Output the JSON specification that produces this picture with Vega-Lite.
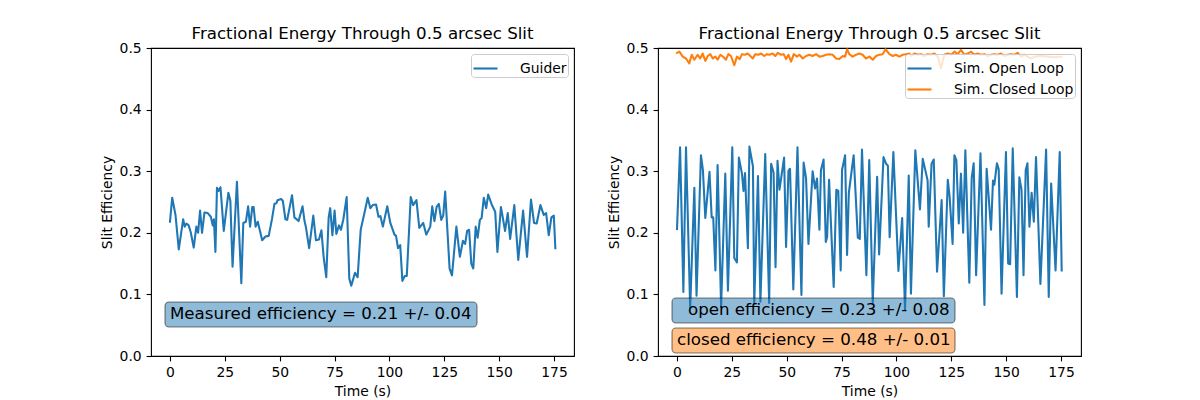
{
  "$schema": "https://vega.github.io/schema/vega-lite/v6.json",
  "padding": {"left": 99, "top": 25, "right": 0, "bottom": 0},
  "background": "white",
  "config": {
    "font": "DejaVu Sans",
    "view": {"stroke": "black", "strokeWidth": 1.1},
    "title": {"font": "DejaVu Sans", "fontSize": 16.67, "fontWeight": "normal", "color": "black", "baseline": "alphabetic", "offset": -2, "anchor": "middle"},
    "axis": {
      "domain": false, "grid": false,
      "tickColor": "black", "tickSize": 4.9, "tickWidth": 1.1,
      "labelFont": "DejaVu Sans", "labelFontSize": 13.9, "labelColor": "black", "labelPadding": 4.9,
      "titleFont": "DejaVu Sans", "titleFontSize": 13.9, "titleFontWeight": "normal", "titleColor": "black", "titlePadding": 5
    },
    "legend": {
      "title": null, "orient": "top-right", "offset": 6, "padding": 1,
      "symbolType": "stroke", "symbolSize": 576, "symbolStrokeWidth": 2.1,
      "labelFont": "DejaVu Sans", "labelFontSize": 13.9, "labelColor": "black", "labelOffset": 21,
      "fillColor": "rgba(255,255,255,0.8)", "strokeColor": "#cccccc", "cornerRadius": 3, "rowPadding": -2
    }
  },
  "datasets": {
    "guider": [
      {"t": 0, "eff": 0.218}, {"t": 1, "eff": 0.257}, {"t": 2.5, "eff": 0.229}, {"t": 4, "eff": 0.173},
      {"t": 6, "eff": 0.222}, {"t": 6.7, "eff": 0.21}, {"t": 7.5, "eff": 0.215}, {"t": 8.5, "eff": 0.212},
      {"t": 9.5, "eff": 0.2}, {"t": 10.8, "eff": 0.176}, {"t": 12, "eff": 0.21}, {"t": 12.8, "eff": 0.2},
      {"t": 13.7, "eff": 0.236}, {"t": 14.6, "eff": 0.2}, {"t": 15.7, "eff": 0.233}, {"t": 17.2, "eff": 0.232},
      {"t": 18.6, "eff": 0.226}, {"t": 19.5, "eff": 0.212}, {"t": 20, "eff": 0.222}, {"t": 20.7, "eff": 0.169},
      {"t": 21.4, "eff": 0.273}, {"t": 22.2, "eff": 0.268}, {"t": 23, "eff": 0.274}, {"t": 24.5, "eff": 0.203},
      {"t": 26.6, "eff": 0.265}, {"t": 27.5, "eff": 0.252}, {"t": 28.5, "eff": 0.145}, {"t": 30.5, "eff": 0.283},
      {"t": 32.5, "eff": 0.118}, {"t": 33.4, "eff": 0.216}, {"t": 34.6, "eff": 0.218}, {"t": 35.6, "eff": 0.243},
      {"t": 36.5, "eff": 0.21}, {"t": 37.5, "eff": 0.242}, {"t": 38.1, "eff": 0.242}, {"t": 39, "eff": 0.21},
      {"t": 40, "eff": 0.218}, {"t": 42, "eff": 0.188}, {"t": 43.5, "eff": 0.194}, {"t": 45, "eff": 0.195},
      {"t": 46.5, "eff": 0.223}, {"t": 47.6, "eff": 0.247}, {"t": 48.5, "eff": 0.248}, {"t": 49, "eff": 0.253},
      {"t": 50.6, "eff": 0.255}, {"t": 51.4, "eff": 0.252}, {"t": 52.6, "eff": 0.222}, {"t": 53.4, "eff": 0.221},
      {"t": 55.6, "eff": 0.261}, {"t": 56.7, "eff": 0.225}, {"t": 58.6, "eff": 0.219}, {"t": 60.4, "eff": 0.243},
      {"t": 61.3, "eff": 0.219}, {"t": 61.9, "eff": 0.21}, {"t": 63.4, "eff": 0.175}, {"t": 65.3, "eff": 0.228},
      {"t": 66.5, "eff": 0.188}, {"t": 67.9, "eff": 0.189}, {"t": 69, "eff": 0.204}, {"t": 70, "eff": 0.161},
      {"t": 71.2, "eff": 0.128}, {"t": 72.3, "eff": 0.225}, {"t": 73, "eff": 0.24}, {"t": 74, "eff": 0.196},
      {"t": 75, "eff": 0.236}, {"t": 75.8, "eff": 0.198}, {"t": 77, "eff": 0.212}, {"t": 77.9, "eff": 0.205},
      {"t": 79, "eff": 0.222}, {"t": 80.5, "eff": 0.258}, {"t": 81.7, "eff": 0.126}, {"t": 82.6, "eff": 0.114},
      {"t": 84.3, "eff": 0.135}, {"t": 85.5, "eff": 0.128}, {"t": 86.9, "eff": 0.205}, {"t": 88.6, "eff": 0.232},
      {"t": 90.1, "eff": 0.257}, {"t": 91.3, "eff": 0.24}, {"t": 92.4, "eff": 0.245}, {"t": 93.9, "eff": 0.246},
      {"t": 95, "eff": 0.226}, {"t": 95.9, "eff": 0.227}, {"t": 97, "eff": 0.21}, {"t": 99, "eff": 0.243},
      {"t": 100.4, "eff": 0.216}, {"t": 102.3, "eff": 0.197}, {"t": 103, "eff": 0.195}, {"t": 103.9, "eff": 0.175},
      {"t": 104.9, "eff": 0.18}, {"t": 105.9, "eff": 0.122}, {"t": 107, "eff": 0.13}, {"t": 107.9, "eff": 0.13},
      {"t": 109.7, "eff": 0.258}, {"t": 110.8, "eff": 0.245}, {"t": 112.3, "eff": 0.253}, {"t": 113.6, "eff": 0.208},
      {"t": 115.4, "eff": 0.216}, {"t": 116.8, "eff": 0.197}, {"t": 118.6, "eff": 0.21}, {"t": 119.5, "eff": 0.243},
      {"t": 120.5, "eff": 0.219}, {"t": 121.5, "eff": 0.242}, {"t": 122.5, "eff": 0.247}, {"t": 123.6, "eff": 0.221},
      {"t": 124.5, "eff": 0.228}, {"t": 125.4, "eff": 0.267}, {"t": 127.4, "eff": 0.142}, {"t": 128.5, "eff": 0.131},
      {"t": 130.5, "eff": 0.21}, {"t": 132.1, "eff": 0.161}, {"t": 133.5, "eff": 0.187}, {"t": 134.5, "eff": 0.182},
      {"t": 135.4, "eff": 0.203}, {"t": 136.3, "eff": 0.205}, {"t": 137.3, "eff": 0.15}, {"t": 138.2, "eff": 0.142},
      {"t": 139.3, "eff": 0.21}, {"t": 140.2, "eff": 0.192}, {"t": 141.2, "eff": 0.221}, {"t": 142, "eff": 0.224},
      {"t": 143, "eff": 0.257}, {"t": 144.1, "eff": 0.24}, {"t": 145, "eff": 0.262}, {"t": 146.6, "eff": 0.246},
      {"t": 147.8, "eff": 0.237}, {"t": 148.2, "eff": 0.234}, {"t": 149.2, "eff": 0.169}, {"t": 150.8, "eff": 0.242},
      {"t": 152.7, "eff": 0.203}, {"t": 153.9, "eff": 0.232}, {"t": 155, "eff": 0.19}, {"t": 156.9, "eff": 0.245},
      {"t": 158.7, "eff": 0.156}, {"t": 160.9, "eff": 0.236}, {"t": 162.7, "eff": 0.161}, {"t": 164.5, "eff": 0.254},
      {"t": 165.9, "eff": 0.216}, {"t": 167.1, "eff": 0.215}, {"t": 168.8, "eff": 0.245}, {"t": 170.3, "eff": 0.229},
      {"t": 171.4, "eff": 0.232}, {"t": 172.6, "eff": 0.196}, {"t": 173.8, "eff": 0.225}, {"t": 174.9, "eff": 0.228},
      {"t": 175.6, "eff": 0.175}
    ],
    "open": [
      {"t": 0, "eff": 0.206}, {"t": 1.4, "eff": 0.339}, {"t": 2.9, "eff": 0.104}, {"t": 4.1, "eff": 0.339},
      {"t": 6, "eff": 0.078}, {"t": 7.9, "eff": 0.273}, {"t": 8.9, "eff": 0.098}, {"t": 10.9, "eff": 0.326},
      {"t": 11.8, "eff": 0.302}, {"t": 12.9, "eff": 0.224}, {"t": 14.8, "eff": 0.299}, {"t": 15.8, "eff": 0.225},
      {"t": 16.5, "eff": 0.225}, {"t": 17.5, "eff": 0.139}, {"t": 18.5, "eff": 0.31}, {"t": 20.1, "eff": 0.08},
      {"t": 22, "eff": 0.296}, {"t": 23.2, "eff": 0.106}, {"t": 25.2, "eff": 0.339}, {"t": 26.1, "eff": 0.159},
      {"t": 27.3, "eff": 0.152}, {"t": 28.2, "eff": 0.322}, {"t": 29.6, "eff": 0.296}, {"t": 30.3, "eff": 0.268},
      {"t": 31, "eff": 0.297}, {"t": 32.3, "eff": 0.175}, {"t": 33, "eff": 0.34}, {"t": 34.6, "eff": 0.308},
      {"t": 35.2, "eff": 0.085}, {"t": 36.9, "eff": 0.292}, {"t": 38, "eff": 0.088}, {"t": 40.2, "eff": 0.328},
      {"t": 42, "eff": 0.086}, {"t": 42.9, "eff": 0.312}, {"t": 44, "eff": 0.298}, {"t": 44.9, "eff": 0.144},
      {"t": 45.8, "eff": 0.317}, {"t": 46.7, "eff": 0.27}, {"t": 48.8, "eff": 0.322}, {"t": 49.7, "eff": 0.177},
      {"t": 50.8, "eff": 0.301}, {"t": 51.5, "eff": 0.304}, {"t": 53, "eff": 0.108}, {"t": 54.9, "eff": 0.339},
      {"t": 56.7, "eff": 0.099}, {"t": 57.7, "eff": 0.314}, {"t": 58.8, "eff": 0.289}, {"t": 59.9, "eff": 0.182},
      {"t": 61.8, "eff": 0.3}, {"t": 62.9, "eff": 0.272}, {"t": 63.8, "eff": 0.288}, {"t": 64.9, "eff": 0.205},
      {"t": 65.6, "eff": 0.302}, {"t": 66.8, "eff": 0.319}, {"t": 67.8, "eff": 0.185}, {"t": 68.4, "eff": 0.193},
      {"t": 69.3, "eff": 0.286}, {"t": 71.4, "eff": 0.112}, {"t": 72.6, "eff": 0.27}, {"t": 73.5, "eff": 0.268},
      {"t": 74.6, "eff": 0.139}, {"t": 75.2, "eff": 0.302}, {"t": 76.6, "eff": 0.326}, {"t": 77.5, "eff": 0.164},
      {"t": 78.3, "eff": 0.265}, {"t": 80.5, "eff": 0.326}, {"t": 82.4, "eff": 0.192}, {"t": 83.3, "eff": 0.19},
      {"t": 84.3, "eff": 0.335}, {"t": 86.3, "eff": 0.131}, {"t": 87.6, "eff": 0.318}, {"t": 89.2, "eff": 0.086},
      {"t": 91.2, "eff": 0.291}, {"t": 92.1, "eff": 0.165}, {"t": 94.1, "eff": 0.323}, {"t": 95.3, "eff": 0.312},
      {"t": 96.1, "eff": 0.309}, {"t": 96.9, "eff": 0.193}, {"t": 98.6, "eff": 0.331}, {"t": 100.9, "eff": 0.138},
      {"t": 102.6, "eff": 0.224}, {"t": 103.9, "eff": 0.075}, {"t": 105.6, "eff": 0.293}, {"t": 106.6, "eff": 0.101},
      {"t": 108.6, "eff": 0.334}, {"t": 110.7, "eff": 0.238}, {"t": 112, "eff": 0.32}, {"t": 114.2, "eff": 0.285},
      {"t": 114.7, "eff": 0.21}, {"t": 116, "eff": 0.312}, {"t": 117, "eff": 0.319}, {"t": 118.5, "eff": 0.137},
      {"t": 120.6, "eff": 0.253}, {"t": 121.6, "eff": 0.097}, {"t": 123.4, "eff": 0.286}, {"t": 124.2, "eff": 0.26},
      {"t": 125.6, "eff": 0.182}, {"t": 126.4, "eff": 0.326}, {"t": 127.3, "eff": 0.318}, {"t": 128.4, "eff": 0.215},
      {"t": 129.4, "eff": 0.296}, {"t": 130.4, "eff": 0.2}, {"t": 131.4, "eff": 0.334}, {"t": 133.2, "eff": 0.119},
      {"t": 134.3, "eff": 0.289}, {"t": 135.2, "eff": 0.313}, {"t": 136.3, "eff": 0.131}, {"t": 138.3, "eff": 0.329},
      {"t": 140.1, "eff": 0.083}, {"t": 141.1, "eff": 0.304}, {"t": 143.1, "eff": 0.205}, {"t": 144, "eff": 0.285},
      {"t": 144.6, "eff": 0.278}, {"t": 145.8, "eff": 0.313}, {"t": 146.6, "eff": 0.303}, {"t": 147.9, "eff": 0.101},
      {"t": 149.9, "eff": 0.331}, {"t": 150.9, "eff": 0.15}, {"t": 151.8, "eff": 0.149}, {"t": 153, "eff": 0.337},
      {"t": 154.9, "eff": 0.096}, {"t": 156, "eff": 0.29}, {"t": 157, "eff": 0.27}, {"t": 157.9, "eff": 0.131},
      {"t": 158.9, "eff": 0.302}, {"t": 159.7, "eff": 0.313}, {"t": 160.6, "eff": 0.21}, {"t": 161.6, "eff": 0.265},
      {"t": 162.6, "eff": 0.218}, {"t": 163.6, "eff": 0.323}, {"t": 165.6, "eff": 0.117}, {"t": 168.2, "eff": 0.335},
      {"t": 169.4, "eff": 0.096}, {"t": 170.5, "eff": 0.28}, {"t": 172.5, "eff": 0.139}, {"t": 174.4, "eff": 0.331},
      {"t": 175.3, "eff": 0.139}
    ],
    "closed": [
      {"t": 0, "eff": 0.492}, {"t": 1.1, "eff": 0.494}, {"t": 2.6, "eff": 0.486}, {"t": 4.1, "eff": 0.483},
      {"t": 5.6, "eff": 0.475}, {"t": 6.7, "eff": 0.489}, {"t": 7.9, "eff": 0.481}, {"t": 9.4, "eff": 0.489},
      {"t": 10.6, "eff": 0.483}, {"t": 11.7, "eff": 0.491}, {"t": 12.9, "eff": 0.479}, {"t": 14, "eff": 0.487},
      {"t": 15.2, "eff": 0.49}, {"t": 16.3, "eff": 0.483}, {"t": 17.5, "eff": 0.486}, {"t": 18.5, "eff": 0.481},
      {"t": 19.8, "eff": 0.489}, {"t": 21.3, "eff": 0.485}, {"t": 22.3, "eff": 0.481}, {"t": 23.4, "eff": 0.49},
      {"t": 24.6, "eff": 0.487}, {"t": 26.1, "eff": 0.472}, {"t": 27.3, "eff": 0.486}, {"t": 28.6, "eff": 0.482},
      {"t": 29.6, "eff": 0.49}, {"t": 31, "eff": 0.489}, {"t": 32.2, "eff": 0.491}, {"t": 33.4, "eff": 0.487},
      {"t": 34.5, "eff": 0.483}, {"t": 35.7, "eff": 0.49}, {"t": 37.1, "eff": 0.489}, {"t": 38.3, "eff": 0.491},
      {"t": 39.8, "eff": 0.487}, {"t": 41, "eff": 0.49}, {"t": 42.1, "eff": 0.489}, {"t": 43.6, "eff": 0.491},
      {"t": 44.8, "eff": 0.487}, {"t": 45.9, "eff": 0.492}, {"t": 47.4, "eff": 0.489}, {"t": 48.6, "eff": 0.49},
      {"t": 49.7, "eff": 0.482}, {"t": 50.8, "eff": 0.489}, {"t": 52, "eff": 0.478}, {"t": 53.2, "eff": 0.49},
      {"t": 54.7, "eff": 0.486}, {"t": 55.8, "eff": 0.489}, {"t": 57.3, "eff": 0.483}, {"t": 58.8, "eff": 0.487},
      {"t": 60.3, "eff": 0.489}, {"t": 61.8, "eff": 0.487}, {"t": 63.4, "eff": 0.49}, {"t": 64.9, "eff": 0.486},
      {"t": 66.4, "eff": 0.487}, {"t": 67.9, "eff": 0.489}, {"t": 69.4, "eff": 0.49}, {"t": 70.9, "eff": 0.489},
      {"t": 72.5, "eff": 0.483}, {"t": 74, "eff": 0.482}, {"t": 75.5, "eff": 0.487}, {"t": 76.6, "eff": 0.486},
      {"t": 77.5, "eff": 0.498}, {"t": 78.5, "eff": 0.49}, {"t": 80, "eff": 0.486}, {"t": 81.6, "eff": 0.489},
      {"t": 83.1, "eff": 0.491}, {"t": 84.6, "eff": 0.489}, {"t": 86.1, "eff": 0.483}, {"t": 87.7, "eff": 0.486},
      {"t": 89.2, "eff": 0.481}, {"t": 90.7, "eff": 0.487}, {"t": 92.2, "eff": 0.489}, {"t": 93.7, "eff": 0.49},
      {"t": 95, "eff": 0.498}, {"t": 96.8, "eff": 0.49}, {"t": 98.3, "eff": 0.487}, {"t": 99.8, "eff": 0.489},
      {"t": 101.3, "eff": 0.486}, {"t": 102.9, "eff": 0.489}, {"t": 104.4, "eff": 0.49}, {"t": 105.9, "eff": 0.491},
      {"t": 106.7, "eff": 0.487}, {"t": 108.2, "eff": 0.491}, {"t": 109.7, "eff": 0.489}, {"t": 111.2, "eff": 0.49},
      {"t": 112.7, "eff": 0.487}, {"t": 114.3, "eff": 0.49}, {"t": 115.8, "eff": 0.489}, {"t": 117.3, "eff": 0.491},
      {"t": 118.8, "eff": 0.486}, {"t": 120.3, "eff": 0.467}, {"t": 121.8, "eff": 0.489}, {"t": 123.4, "eff": 0.491},
      {"t": 124.9, "eff": 0.489}, {"t": 126.4, "eff": 0.494}, {"t": 127.9, "eff": 0.49}, {"t": 129.4, "eff": 0.497},
      {"t": 131, "eff": 0.489}, {"t": 132.5, "eff": 0.491}, {"t": 134, "eff": 0.494}, {"t": 135.5, "eff": 0.489},
      {"t": 137, "eff": 0.491}, {"t": 138.5, "eff": 0.489}, {"t": 140.1, "eff": 0.49}, {"t": 141.6, "eff": 0.487},
      {"t": 143.1, "eff": 0.489}, {"t": 144.6, "eff": 0.49}, {"t": 146.2, "eff": 0.489}, {"t": 147.7, "eff": 0.491},
      {"t": 149.2, "eff": 0.487}, {"t": 150.7, "eff": 0.489}, {"t": 152.2, "eff": 0.49}, {"t": 153.8, "eff": 0.489},
      {"t": 155.3, "eff": 0.492}, {"t": 156.8, "eff": 0.486}, {"t": 158.3, "eff": 0.489}, {"t": 159.8, "eff": 0.486},
      {"t": 161.3, "eff": 0.483}, {"t": 162.9, "eff": 0.486}, {"t": 165.9, "eff": 0.487}, {"t": 168.9, "eff": 0.486},
      {"t": 172, "eff": 0.485}, {"t": 175.3, "eff": 0.486}
    ]
  },
  "spacing": 31,
  "resolve": {"scale": {"color": "independent"}, "legend": {"color": "independent"}},
  "hconcat": [
    {
      "width": 423,
      "height": 308,
      "title": "Fractional Energy Through 0.5 arcsec Slit",
      "encoding": {
        "x": {"field": "t", "type": "quantitative", "scale": {"domain": [-8.66, 184.1], "nice": false, "zero": false},
              "axis": {"values": [0, 25, 50, 75, 100, 125, 150, 175], "title": "Time (s)"}},
        "y": {"field": "eff", "type": "quantitative", "scale": {"domain": [0, 0.5], "nice": false},
              "axis": {"values": [0, 0.1, 0.2, 0.3, 0.4, 0.5], "format": ".1f", "title": "Slit Efficiency"}}
      },
      "layer": [
        {
          "data": {"name": "guider"},
          "mark": {"type": "line", "strokeWidth": 2.08, "strokeJoin": "round", "strokeCap": "square"},
          "encoding": {"color": {"datum": "Guider", "type": "nominal", "scale": {"range": ["#1f77b4"]}}}
        },
        {
          "data": {"values": [{"t": 0, "eff": 0.0674, "label": "Measured efficiency = 0.21 +/- 0.04"}]},
          "layer": [
            {"mark": {"type": "rect", "width": 312, "height": 25, "xOffset": 151, "fill": "#1f77b4", "fillOpacity": 0.5, "stroke": "black", "strokeOpacity": 0.5, "strokeWidth": 1.1, "cornerRadius": 4}},
            {"mark": {"type": "text", "align": "left", "baseline": "middle", "font": "DejaVu Sans", "fontSize": 16.67, "color": "black"},
             "encoding": {"text": {"field": "label"}}}
          ]
        }
      ]
    },
    {
      "width": 423,
      "height": 308,
      "title": "Fractional Energy Through 0.5 arcsec Slit",
      "encoding": {
        "x": {"field": "t", "type": "quantitative", "scale": {"domain": [-8.66, 184.1], "nice": false, "zero": false},
              "axis": {"values": [0, 25, 50, 75, 100, 125, 150, 175], "title": "Time (s)"}},
        "y": {"field": "eff", "type": "quantitative", "scale": {"domain": [0, 0.5], "nice": false},
              "axis": {"values": [0, 0.1, 0.2, 0.3, 0.4, 0.5], "format": ".1f", "title": "Slit Efficiency"}}
      },
      "layer": [
        {
          "data": {"name": "open"},
          "mark": {"type": "line", "strokeWidth": 2.08, "strokeJoin": "round", "strokeCap": "square"},
          "encoding": {"color": {"datum": "Sim. Open Loop", "type": "nominal",
                                 "scale": {"domain": ["Sim. Open Loop", "Sim. Closed Loop"], "range": ["#1f77b4", "#ff7f0e"]}}}
        },
        {
          "data": {"name": "closed"},
          "mark": {"type": "line", "strokeWidth": 2.08, "strokeJoin": "round", "strokeCap": "square"},
          "encoding": {"color": {"datum": "Sim. Closed Loop", "type": "nominal"}}
        },
        {
          "data": {"values": [
            {"t": 0, "eff": 0.0739, "label": "open efficiency = 0.23 +/- 0.08", "kind": "open"},
            {"t": 0, "eff": 0.0252, "label": "closed efficiency = 0.48 +/- 0.01", "kind": "closed"}
          ]},
          "layer": [
            {"mark": {"type": "rect", "width": 283, "height": 25, "xOffset": 136.5, "fillOpacity": 0.5, "stroke": "black", "strokeOpacity": 0.5, "strokeWidth": 1.1, "cornerRadius": 4},
             "encoding": {"fill": {"field": "kind", "type": "nominal", "scale": {"domain": ["open", "closed"], "range": ["#1f77b4", "#ff7f0e"]}, "legend": null}}},
            {"transform": [{"filter": "datum.kind === 'open'"}],
             "mark": {"type": "text", "align": "left", "baseline": "middle", "dx": 11, "font": "DejaVu Sans", "fontSize": 16.67, "color": "black"},
             "encoding": {"text": {"field": "label"}}},
            {"transform": [{"filter": "datum.kind === 'closed'"}],
             "mark": {"type": "text", "align": "left", "baseline": "middle", "font": "DejaVu Sans", "fontSize": 16.67, "color": "black"},
             "encoding": {"text": {"field": "label"}}}
          ]
        }
      ]
    }
  ]
}
